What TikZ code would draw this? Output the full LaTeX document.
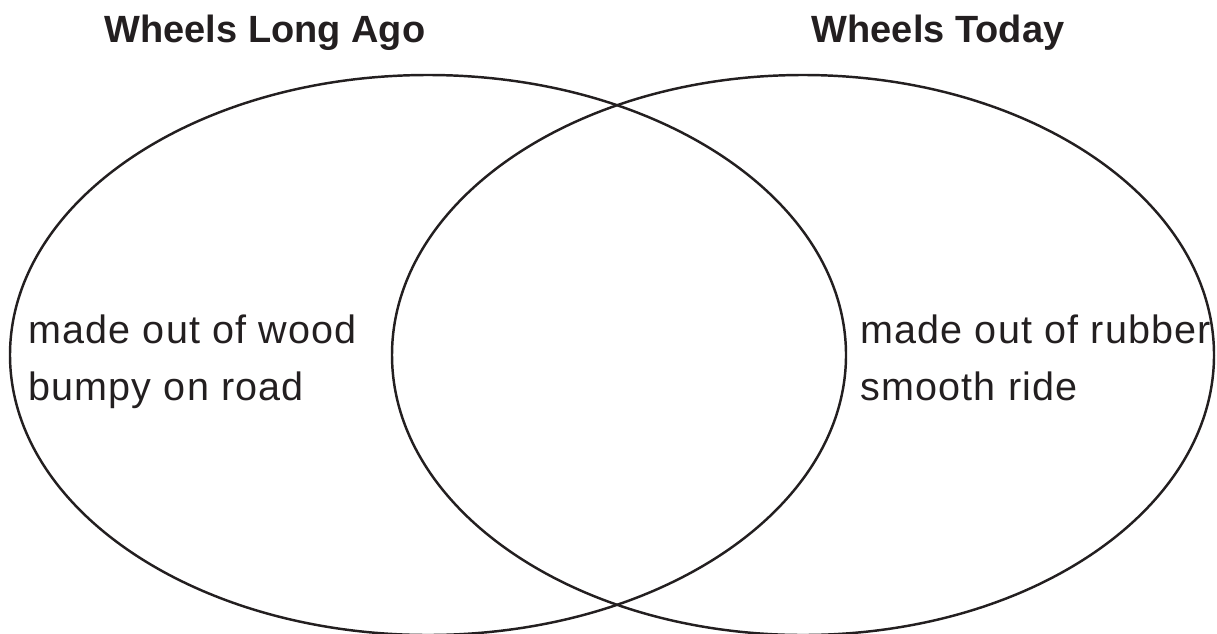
\documentclass[tikz,border=0pt]{standalone}
\usepackage{fontspec}
\setmainfont{Liberation Sans}
\newfontfamily\textoletra[LetterSpace=3]{Liberation Sans}
\usetikzlibrary{positioning}
\definecolor{ctinta}{HTML}{231F20}
\tikzset{
  aro/.style={draw=ctinta,line width=1.4pt},
  titulo/.style={font=\fontsize{21.6}{26}\selectfont\bfseries,text=ctinta,
                 anchor=base,inner sep=0pt},
  rasgo/.style={font=\textoletra\fontsize{22.5}{32.4}\selectfont,text=ctinta,
                align=left,anchor=base west,inner sep=0pt},
}
\begin{document}
\begin{tikzpicture}[x=1cm,y=1cm]

\useasboundingbox (0,0) rectangle (24.34,12.66);

% ---------------- circulos ----------------
\draw[aro] (8.56,5.56)  ellipse [x radius=8.36,y radius=5.6];
\draw[aro] (16.06,5.56) ellipse [x radius=8.22,y radius=5.6];

% ---------------- titulos ----------------
\node[titulo] (tlargo) at (5.30,11.82)  {Wheels Long Ago};
\node[titulo] (thoy)   at (18.76,11.82) {Wheels Today};

% ---------------- rasgos ----------------
\node[rasgo] (rlargo) at (0.56,4.66) {made out of wood\\bumpy on road};
\node[rasgo] (rhoy)   at (17.20,4.66) {made out of rubber\\smooth ride};

\end{tikzpicture}
\end{document}
